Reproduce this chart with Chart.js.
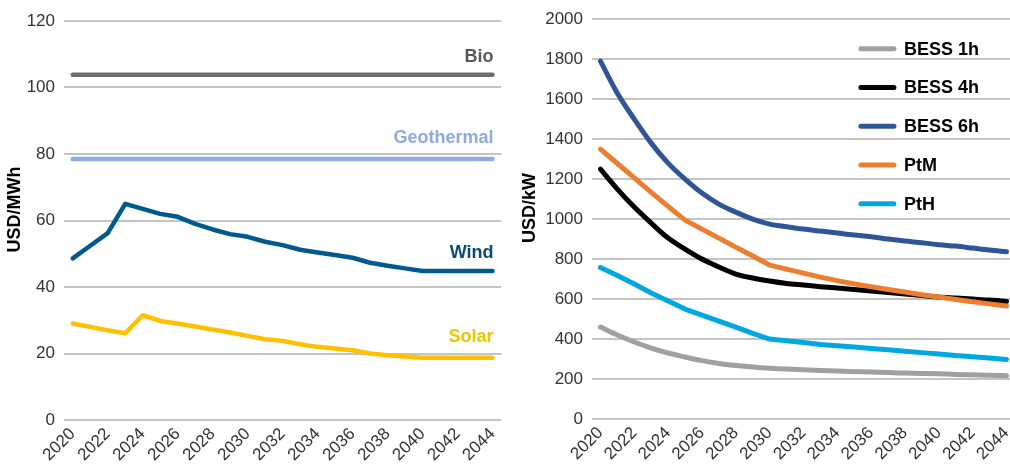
<!DOCTYPE html>
<html lang="en">
<head>
  <meta charset="UTF-8" />
  <title>LCOE and storage cost outlook</title>
  <script src="https://cdn.jsdelivr.net/npm/chart.js"></script>
  <style>
    html, body {
      margin: 0;
      padding: 0;
      background: #fff;
      overflow: hidden;
      width: 1010px;
      height: 468px;
    }
    #wrap {
      position: relative;
      width: 1010px;
      height: 468px;
      overflow: hidden;
    }
    #left {
      position: absolute;
      left: 0;
      top: 0;
    }
    #right {
      position: absolute;
      left: 510px;
      top: 0;
    }
  </style>
</head>
<body>
  <div id="wrap">
    <canvas id="left" width="511" height="468"></canvas>
    <canvas id="right" width="515" height="468"></canvas>
  </div>

  <script>
    // years shared by both panels
    const years = ['2020','2021','2022','2023','2024','2025','2026','2027','2028','2029','2030','2031','2032',
                   '2033','2034','2035','2036','2037','2038','2039','2040','2041','2042','2043','2044'];

    // left panel, USD/MWh
    const bio = Array(25).fill(103.8);
    const geothermal = Array(25).fill(78.5);
    const wind = [48.6, 52.4, 56.2, 65.0, 63.5, 62.0, 61.1, 59.0, 57.3, 55.9, 55.1, 53.6, 52.6,
                  51.2, 50.4, 49.6, 48.8, 47.3, 46.4, 45.6, 44.8, 44.8, 44.8, 44.8, 44.8];
    const solar = [29.0, 28.0, 27.0, 26.1, 31.5, 29.8, 29.0, 28.1, 27.2, 26.3, 25.3, 24.3, 23.8,
                   22.8, 22.0, 21.5, 21.0, 20.0, 19.5, 19.1, 18.7, 18.7, 18.7, 18.7, 18.7];

    // right panel, USD/kW
    const bess1h = [460, 420, 385, 355, 330, 310, 292, 278, 268, 260, 254, 250, 246,
                    243, 240, 237, 235, 232, 230, 228, 226, 223, 221, 219, 216];
    const bess4h = [1250, 1150, 1060, 980, 905, 850, 800, 760, 725, 705, 690, 678, 670,
                    662, 655, 648, 640, 633, 625, 618, 610, 605, 600, 595, 588];
    const bess6h = [1790, 1630, 1500, 1380, 1280, 1200, 1130, 1075, 1035, 1000, 975, 962, 950,
                    940, 930, 920, 912, 900, 890, 882, 872, 865, 855, 845, 837];
    const ptm = [1350, 1278, 1206, 1134, 1064, 995, 950, 905, 860, 815, 770, 750, 730,
                 710, 692, 676, 662, 648, 635, 622, 610, 598, 587, 576, 565];
    const pth = [758, 718, 675, 630, 590, 550, 520, 490, 460, 428, 400, 392, 383,
                 373, 366, 360, 353, 346, 339, 332, 325, 318, 311, 305, 298];

    const FONT = "'Liberation Sans', Arial, Helvetica, sans-serif";
    const TICK = '#333333';
    const GRID = '#c4c4c4';

    // text labels at the right end of each line (left panel)
    const endLabels = {
      id: 'endLabels',
      afterDatasetsDraw(chart) {
        const ctx = chart.ctx;
        const x = chart.scales.x, y = chart.scales.y;
        chart.data.datasets.forEach(ds => {
          if (!ds.endLabel) return;
          const i = ds.data.length - 1;
          ctx.save();
          ctx.font = 'bold 18px ' + FONT;
          ctx.fillStyle = ds.endLabel.color;
          ctx.textAlign = 'right';
          ctx.textBaseline = 'middle';
          ctx.fillText(ds.label, x.getPixelForValue(i) + 1, y.getPixelForValue(ds.data[i]) - ds.endLabel.dy);
          ctx.restore();
        });
      }
    };

    // legend inside the plot, top right (right panel)
    const insideLegend = {
      id: 'insideLegend',
      afterDraw(chart) {
        const ctx = chart.ctx;
        const a = chart.chartArea;
        const x0 = a.right - 154;
        ctx.save();
        ctx.font = 'bold 18px ' + FONT;
        ctx.textBaseline = 'middle';
        ctx.lineCap = 'round';
        ctx.lineWidth = 5;
        chart.data.datasets.forEach((ds, i) => {
          const yy = a.top + 29.5 + i * 38.75;
          ctx.strokeStyle = ds.borderColor;
          ctx.beginPath();
          ctx.moveTo(x0, yy);
          ctx.lineTo(x0 + 33, yy);
          ctx.stroke();
          ctx.fillStyle = '#000';
          ctx.fillText(ds.label, x0 + 43, yy + 1);
        });
        ctx.restore();
      }
    };

    // y axis title, sitting a little above the middle of the plot like the original
    const yTitle = {
      id: 'yTitle',
      afterDraw(chart, args, opts) {
        const ctx = chart.ctx;
        const a = chart.chartArea;
        ctx.save();
        ctx.translate(opts.x, (a.top + a.bottom) / 2 - 11);
        ctx.rotate(-Math.PI / 2);
        ctx.font = 'bold 18px ' + FONT;
        ctx.fillStyle = '#000';
        ctx.textAlign = 'center';
        ctx.textBaseline = 'middle';
        ctx.fillText(opts.text, 0, 0);
        ctx.restore();
      }
    };

    function xAxis(h) {
      return {
        offset: true,
        grid: { display: false, drawTicks: false },
        border: { display: false },
        ticks: {
          autoSkip: false,
          maxRotation: 45,
          minRotation: 45,
          padding: 4,
          color: TICK,
          font: { family: FONT, size: 17 },
          callback: function (v, i) { return i % 2 === 0 ? years[i] : ''; }
        },
        afterFit: s => { s.height = h; }
      };
    }

    function yAxis(max, step, w) {
      return {
        min: 0,
        max: max,
        grid: { color: GRID, lineWidth: 2, drawTicks: false },
        border: { display: false },
        ticks: {
          stepSize: step,
          padding: 9,
          color: TICK,
          font: { family: FONT, size: 17 },
          callback: v => String(v)
        },
        afterFit: s => { s.width = w; }
      };
    }

    function line(label, data, color, width, extra) {
      return Object.assign({
        label: label,
        data: data,
        borderColor: color,
        backgroundColor: color,
        borderWidth: width,
        borderCapStyle: 'round',
        borderJoinStyle: 'round',
        pointRadius: 0,
        fill: false,
        tension: 0
      }, extra || {});
    }

    new Chart(document.getElementById('left'), {
      type: 'line',
      data: {
        labels: years,
        datasets: [
          line('Bio', bio, '#6e6e6e', 4.5, { endLabel: { color: '#595959', dy: 18 } }),
          line('Geothermal', geothermal, '#8eaadb', 4.5, { endLabel: { color: '#8eaadb', dy: 21 } }),
          line('Wind', wind, '#005a8c', 4.5, { endLabel: { color: '#0a4a78', dy: 18 } }),
          line('Solar', solar, '#ffc000', 4.5, { endLabel: { color: '#eec600', dy: 21 } })
        ]
      },
      options: {
        responsive: false,
        animation: false,
        layout: { padding: { top: 21, right: 3.5, left: 4, bottom: 0 } },
        plugins: {
          legend: { display: false },
          tooltip: { enabled: false },
          yTitle: { text: 'USD/MWh', x: 15 }
        },
        scales: {
          x: xAxis(48),
          y: yAxis(120, 20, 60)
        }
      },
      plugins: [endLabels, yTitle]
    });

    new Chart(document.getElementById('right'), {
      type: 'line',
      data: {
        labels: years,
        datasets: [
          line('BESS 1h', bess1h, '#a0a0a0', 5, { cubicInterpolationMode: 'monotone', order: 4 }),
          line('BESS 4h', bess4h, '#000000', 5, { cubicInterpolationMode: 'monotone', order: 3 }),
          line('BESS 6h', bess6h, '#2f5597', 5, { cubicInterpolationMode: 'monotone', order: 2 }),
          line('PtM', ptm, '#ed7d31', 5, { order: 1 }),
          line('PtH', pth, '#00a8e0', 5, { order: 0 })
        ]
      },
      options: {
        responsive: false,
        animation: false,
        layout: { padding: { top: 19, right: 6, left: 10, bottom: 0 } },
        plugins: {
          legend: { display: false },
          tooltip: { enabled: false },
          yTitle: { text: 'USD/kW', x: 20 }
        },
        scales: {
          x: xAxis(49),
          y: yAxis(2000, 200, 72)
        }
      },
      plugins: [insideLegend, yTitle]
    });
  </script>
</body>
</html>
